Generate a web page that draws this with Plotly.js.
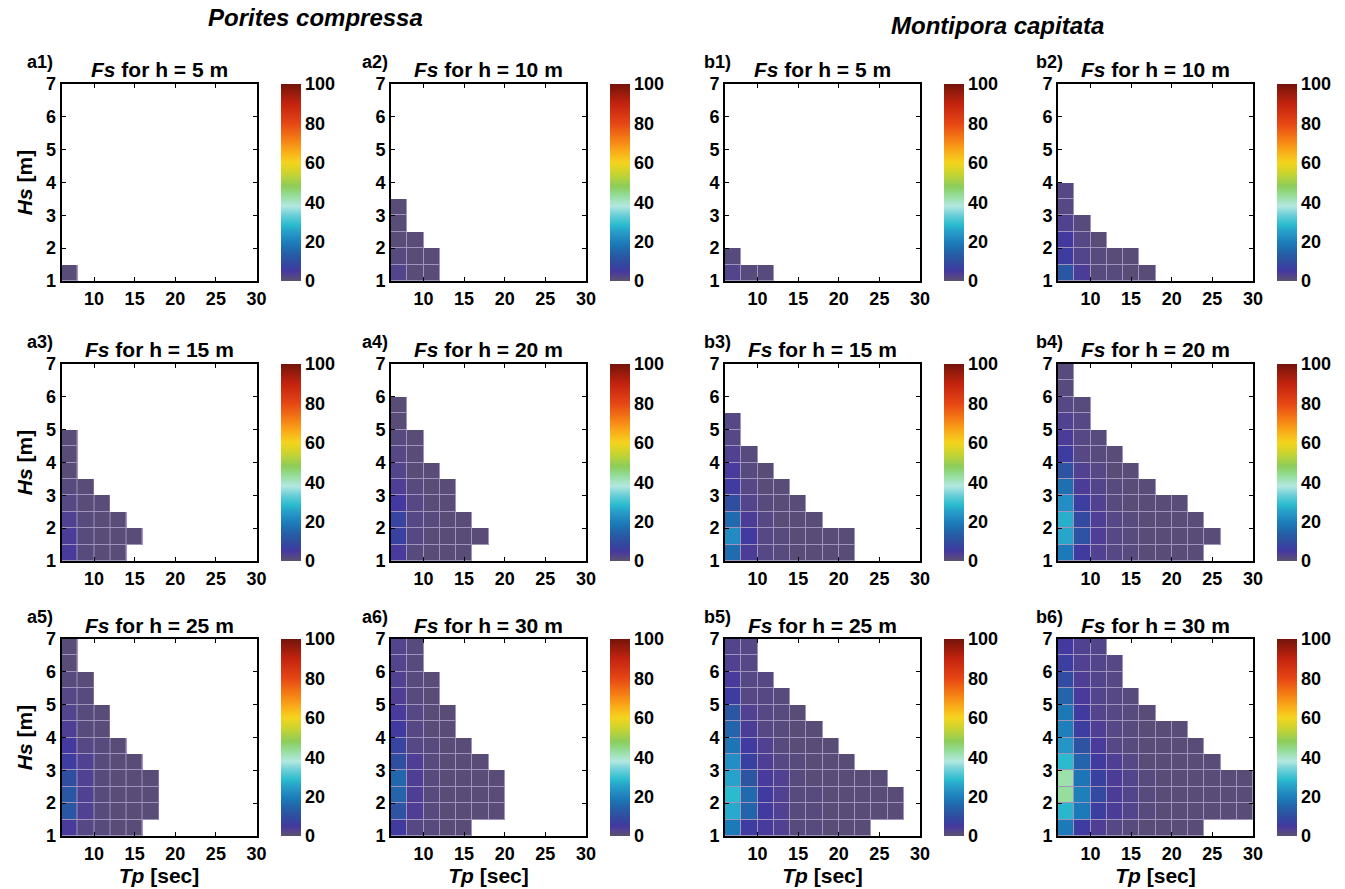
<!DOCTYPE html>
<html><head><meta charset="utf-8">
<script src="https://cdn.plot.ly/plotly-3.0.1.min.js"></script>
<style>body{margin:0;background:#fff}#chart{width:1345px;height:889px}</style>
</head><body><div id="chart"></div>
<script>
// ---- data (rows listed from Hs = 1-1.5 m upward; each row lists cells from Tp = 6-8 s onward) ----
const tpCenters = [7, 9, 11, 13, 15, 17, 19, 21, 23, 25, 27, 29];
const hsCenters = [1.25, 1.75, 2.25, 2.75, 3.25, 3.75, 4.25, 4.75, 5.25, 5.75, 6.25, 6.75];
const xTickVals = [10, 15, 20, 25, 30];
const yTickVals = [1, 2, 3, 4, 5, 6, 7];
const cbTickVals = [0, 20, 40, 60, 80, 100];
const depths = [5, 10, 15, 20, 25, 30];
const speciesNames = ['Porites compressa', 'Montipora capitata'];

const fsA1 = [[1]];
const fsA2 = [[2.5,1,1],[1.5,1,1],[1,1],[1],[1]];
const fsA3 = [[4.5,1.5,1,1],[4,1.5,1,1,1],[3,1.5,1,1],[2,1,1],[1.5,1],[1],[1],[1]];
const fsA4 = [[4.5,1.5,1,1,1],[7,2,1,1,1,1],[7.5,2,1.5,1,1],[5,2,1,1],[3.5,1.5,1,1],[2.5,1,1],[2,1],[1.5,1],[1],[1]];
const fsA5 = [[4.5,2,1.5,1,1],[12,3,1.5,1,1,1],[12,3,1.5,1,1,1],[10,3,1.5,1,1,1],[6,3,1.5,1,1],[5,2,1.5,1],[3.5,1.5,1],[2.5,1.5,1],[2,1.5],[1.5,1],[1],[1]];
const fsA6 = [[5.5,2,1.5,1,1],[11,3.5,1.5,1,1,1,1],[15,3.5,1.5,1,1,1,1],[15.5,3.5,1.5,1,1,1,1],[10,3.5,1.5,1,1,1],[7.5,2,1.5,1,1],[5.5,2,1,1],[4.5,2,1,1],[3.5,1.5,1],[3,1.5,1],[2.5,1.5],[2.5,1.5]];
const fsB1 = [[2.5,1.5,1.5],[1.5]];
const fsB2 = [[12,4,1.5,1.5,1,1],[6,2.5,1.5,1,1],[5,2,1],[3,1.5],[2],[2]];
const fsB3 = [[16.5,4,2,1.5,1,1,1,1],[22,5.5,2,1.5,1,1,1,1],[16,4,2,1,1,1],[10,2.5,1.5,1,1],[5.5,2,1,1],[4.5,1.5,1],[3,1.5],[2],[2]];
const fsB4 = [[19,5.5,3,2,1.5,1,1,1,1],[26,11,3.5,2,1.5,1,1,1,1,1],[27,9,3.5,2,1.5,1,1,1,1],[22.5,6.5,3,1.5,1,1,1,1],[17,4,2.5,1.5,1,1],[11,3,2,1,1],[6,2,1.5,1],[4,2,1.5],[3,2],[2,1.5],[1.5],[1.5]];
const fsB5 = [[19,6,4.5,3,1.5,1.5,1,1,1],[26.5,15,5.5,3,1.5,1.5,1,1,1,1,1],[28.5,16,5.5,3,1.5,1.5,1,1,1,1,1],[25.5,11.5,4.5,3,1.5,1,1,1,1,1],[22.5,7,3.5,2,1.5,1,1,1],[18,5.5,3,1.5,1,1,1],[15,4,2,1.5,1,1],[11.5,3,2,1.5,1],[6,2,2,1.5],[4.5,2,2],[3,2],[2.5,2]];
const fsB6 = [[19,6,3.5,2,1.5,1,1,1,1],[28,19,6.5,4,2.5,1.5,1,1,1,1,1,1],[43,20,9,4,2.5,1.5,1,1,1,1,1,1],[42,18,7,4,2.5,1.5,1,1,1,1,1,1],[28.5,15,5.5,3.5,2,1,1,1,1,1],[23.5,11,4.5,2,1.5,1,1,1,1],[20,6.5,3.5,2,1.5,1,1,1],[18.5,5.5,2.5,2,1.5,1],[15,4.5,2.5,2,1.5],[9.5,3.5,2.5,2],[6.5,3,2.5,2],[5,3,2.5]];

// panels in reading order (row by row, left to right)
const panels = [
  {label:'a1)', sp:0, h:depths[0], data:fsA1}, {label:'a2)', sp:0, h:depths[1], data:fsA2},
  {label:'b1)', sp:1, h:depths[0], data:fsB1}, {label:'b2)', sp:1, h:depths[1], data:fsB2},
  {label:'a3)', sp:0, h:depths[2], data:fsA3}, {label:'a4)', sp:0, h:depths[3], data:fsA4},
  {label:'b3)', sp:1, h:depths[2], data:fsB3}, {label:'b4)', sp:1, h:depths[3], data:fsB4},
  {label:'a5)', sp:0, h:depths[4], data:fsA5}, {label:'a6)', sp:0, h:depths[5], data:fsA6},
  {label:'b5)', sp:1, h:depths[4], data:fsB5}, {label:'b6)', sp:1, h:depths[5], data:fsB6}
];

// ---- styling / geometry ----
const W = 1345, H = 889;
const colLeft = [61.5, 391, 725, 1058];
const labelLeft = [25, 360, 702, 1034];
const rowTop = [84, 364, 639];
const PW = 195, PH = 197;
const FONT = 'Liberation Sans, Arial, Helvetica, sans-serif';
const tickFont = {family: FONT, size: 18, color: '#000', weight: 'bold'};

const colorscale = [
  [0, 'rgb(92,80,112)'], [0.01, 'rgb(89,77,120)'], [0.02, 'rgb(85,72,132)'],
  [0.03, 'rgb(80,66,145)'], [0.04, 'rgb(75,60,152)'], [0.05, 'rgb(68,57,158)'],
  [0.06, 'rgb(62,60,160)'], [0.075, 'rgb(55,68,160)'], [0.10, 'rgb(48,78,160)'],
  [0.12, 'rgb(42,87,163)'], [0.15, 'rgb(35,100,170)'], [0.17, 'rgb(30,112,177)'],
  [0.19, 'rgb(28,122,184)'], [0.225, 'rgb(35,142,195)'], [0.26, 'rgb(40,165,203)'],
  [0.285, 'rgb(42,188,206)'], [0.33, 'rgb(100,205,215)'], [0.38, 'rgb(180,232,225)'],
  [0.43, 'rgb(150,222,158)'], [0.48, 'rgb(140,205,90)'], [0.55, 'rgb(205,212,45)'],
  [0.60, 'rgb(245,212,30)'], [0.66, 'rgb(250,170,25)'], [0.72, 'rgb(245,125,20)'],
  [0.80, 'rgb(230,70,20)'], [0.90, 'rgb(195,35,15)'], [1, 'rgb(115,20,10)']
];

const traces = [];
const layout = {
  width: W, height: H, margin: {l: 0, r: 0, t: 0, b: 0},
  paper_bgcolor: '#fff', plot_bgcolor: '#fff', showlegend: false,
  font: {family: FONT, color: '#000'},
  annotations: []
};

panels.forEach((p, i) => {
  const n = i + 1;
  const col = i % 4, row = Math.floor(i / 4);
  const xs = n === 1 ? '' : String(n);
  const left = colLeft[col], top = rowTop[row];
  const z = hsCenters.map((_, r) => {
    const rr = p.data[r] || [];
    return tpCenters.map((_, c) => (c < rr.length ? rr[c] : null));
  });
  const mask = z.map(r => r.map(v => (v === null ? null : 1)));
  traces.push({
    type: 'heatmap', x: tpCenters, y: hsCenters, z: mask, xaxis: 'x' + xs, yaxis: 'y' + xs,
    colorscale: [[0, 'rgb(160,148,190)'], [1, 'rgb(160,148,190)']], showscale: false, hoverinfo: 'skip'
  });
  traces.push({
    type: 'heatmap', x: tpCenters, y: hsCenters, z: z, xaxis: 'x' + xs, yaxis: 'y' + xs,
    zmin: 0, zmax: 100, colorscale: colorscale, xgap: 1, ygap: 1,
    showscale: true,
    colorbar: {
      x: (left + PW + 24) / W, xanchor: 'left', xref: 'paper',
      y: 1 - top / H, yanchor: 'top', yref: 'paper',
      len: PH, lenmode: 'pixels', thickness: 20, thicknessmode: 'pixels',
      xpad: 0, ypad: 0, outlinewidth: 0, tickvals: cbTickVals, ticks: '',
      tickfont: tickFont
    },
    hovertemplate: 'Tp %{x} s<br>Hs %{y} m<br>Fs %{z}<extra></extra>'
  });
  const xa = {
    domain: [left / W, (left + PW) / W], anchor: 'y' + xs, range: [6, 30],
    tickvals: xTickVals, ticks: 'inside', ticklen: 4, tickwidth: 1, tickcolor: '#000',
    mirror: 'ticks', showline: true, linewidth: 2, linecolor: '#000',
    showgrid: false, zeroline: false, tickfont: tickFont
  };
  const ya = {
    domain: [1 - (top + PH) / H, 1 - top / H], anchor: 'x' + xs, range: [1, 7],
    tickvals: yTickVals, ticks: 'inside', ticklen: 4, tickwidth: 1, tickcolor: '#000',
    mirror: 'ticks', showline: true, linewidth: 2, linecolor: '#000',
    showgrid: false, zeroline: false, tickfont: tickFont
  };
  if (row === 2) xa.title = {text: '<i>Tp</i> [sec]', font: {family: FONT, size: 21, weight: 'bold'}, standoff: 0};
  if (col === 0) ya.title = {text: '<i>Hs</i> [m]', font: {family: FONT, size: 21, weight: 'bold'}, standoff: 8};
  layout['xaxis' + xs] = xa;
  layout['yaxis' + xs] = ya;
  layout.annotations.push({
    xref: 'paper', yref: 'paper', x: (left + PW / 2) / W, y: 1 - (top - 14) / H,
    xanchor: 'center', yanchor: 'middle', showarrow: false,
    text: '<b><i>Fs</i> for h = ' + p.h + ' m</b>', font: {family: FONT, size: 21, color: '#000'}
  });
  layout.annotations.push({
    xref: 'paper', yref: 'paper', x: labelLeft[col] / W, y: 1 - (top - 22) / H,
    xanchor: 'left', yanchor: 'middle', showarrow: false,
    text: '<b>' + p.label + '</b>', font: {family: FONT, size: 18, color: '#000'}
  });
});

layout.annotations.push({
  xref: 'paper', yref: 'paper', x: 315 / W, y: 1 - 18 / H, xanchor: 'center', yanchor: 'middle',
  showarrow: false, text: '<b><i>' + speciesNames[0] + '</i></b>', font: {family: FONT, size: 24, color: '#000'}
});
layout.annotations.push({
  xref: 'paper', yref: 'paper', x: 997 / W, y: 1 - 25 / H, xanchor: 'center', yanchor: 'middle',
  showarrow: false, text: '<b><i>' + speciesNames[1] + '</i></b>', font: {family: FONT, size: 24, color: '#000'}
});

Plotly.newPlot('chart', traces, layout, {displayModeBar: false, responsive: false});
</script></body></html>
